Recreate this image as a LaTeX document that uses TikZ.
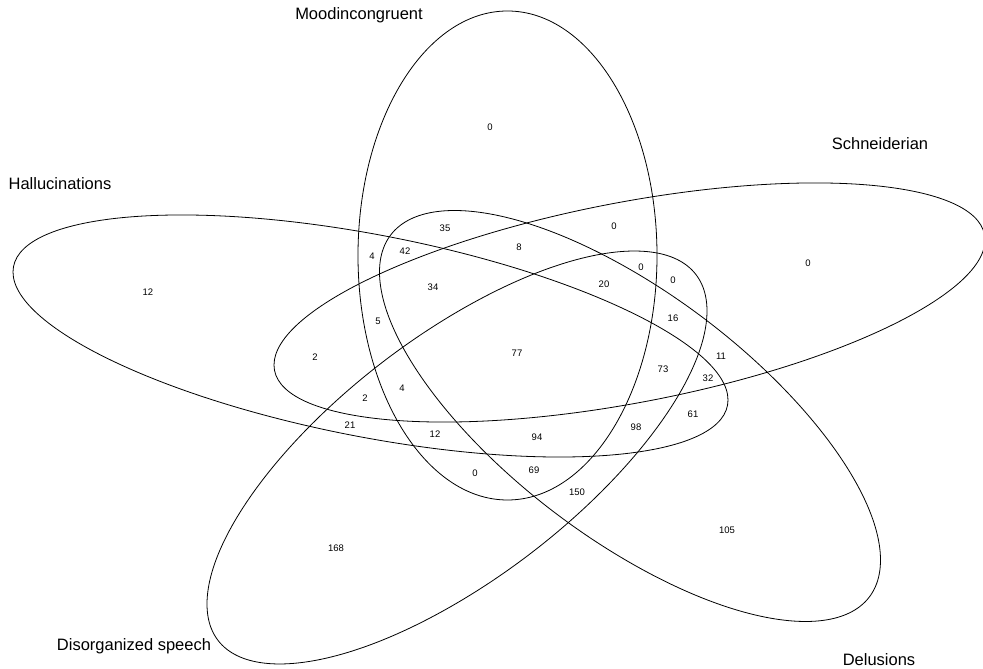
\documentclass[tikz,border=0pt]{standalone}
\usepackage{fontspec}
\setmainfont{Liberation Sans}
\begin{document}
\begin{tikzpicture}[x=1pt,y=1pt,
  setline/.style={line width=0.8pt},
  setname/.style={font=\fontsize{16.5}{19}\selectfont,inner sep=0pt},
  regcount/.style={font=\fontsize{9.5}{11}\selectfont,inner sep=0pt}]
\useasboundingbox (0,0) rectangle (983,669);
% the five sets, each one an affine image of the unit circle
\draw[setline,cm={149.5,0,0,244.5,(507.5,413.5)}] (0,0) circle (1);  % Moodincongruent
\draw[setline,cm={355.5,62.5,0,101.9,(629.5,366.5)}] (0,0) circle (1); % Schneiderian
\draw[setline,cm={250.5,-144,0,146.6,(630,253)}] (0,0) circle (1);   % Delusions
\draw[setline,cm={250,146.5,0,145.5,(457,211.5)}] (0,0) circle (1);  % Disorganized speech
\draw[setline,cm={357.5,-64,0,102.7,(370.5,333)}] (0,0) circle (1);  % Hallucinations
% set names
\node[setname] (lblM) at (359,654) {Moodincongruent};
\node[setname] (lblS) at (880,525) {Schneiderian};
\node[setname] (lblH) at (60,485) {Hallucinations};
\node[setname] (lblO) at (134,23) {Disorganized speech};
\node[setname] (lblD) at (879,9) {Delusions};
% region counts
\foreach \x/\y/\n [count=\i] in {490/542/0, 808/406/0, 148/377/12, 336/121/168,
    727/139/105, 445/441/35, 614/443/0, 519/422/8, 372/413/4, 405/418/42,
    641/402/0, 673/389/0, 433/382/34, 604/385/20, 673/351/16, 378/348/5,
    315/312/2, 517/316/77, 721/313/11, 663/300/73, 708/291/32, 365/271/2,
    402/281/4, 693/255/61, 350/244/21, 435/235/12, 537/232/94, 636/242/98,
    475/196/0, 534/199/69, 577/177/150}
  \node[regcount] (r\i) at (\x,\y) {\n};
\end{tikzpicture}
\end{document}
